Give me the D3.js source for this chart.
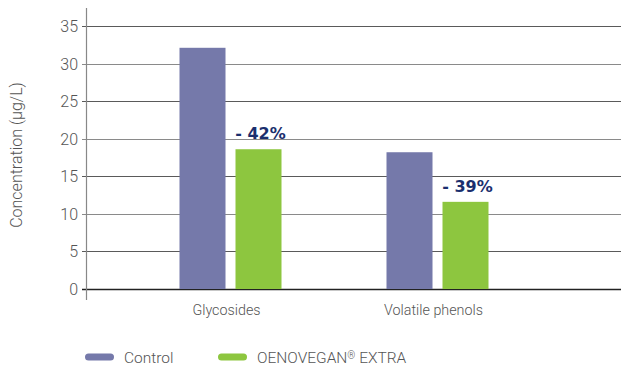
<!DOCTYPE html>
<html>
<head>
<meta charset="utf-8">
<script src="https://cdn.jsdelivr.net/npm/d3@7"></script>
<style>
  body { margin: 0; background: #fff; }
  svg { display: block; font-family: Roboto, "Liberation Sans", sans-serif; }
</style>
</head>
<body>
<svg id="chart" width="621" height="366"></svg>
<script>
// dati
const categories = ["Glycosides", "Volatile phenols"];
const series = ["Control", "OENOVEGAN® EXTRA"];
const controlValues = [32.1, 18.2];
const oenoveganValues = [18.6, 11.6];
const reductionLabels = ["- 42%", "- 39%"];
const yTicks = [0, 5, 10, 15, 20, 25, 30, 35];

const colors = ["#7579aa", "#8dc63f"];

const svg = d3.select("#chart");
const width = 621, height = 366;
const marginLeft = 86, plotBottom = 289, plotTop = 26;

const y = d3.scaleLinear().domain([0, 35]).range([plotBottom, plotTop]);

// gruppi per categoria
const x0 = d3.scaleBand().domain(categories).range([127, 541]).padding(0);
const x1 = d3.scaleBand().domain(series).range([52.5, 154.5]).paddingInner(10 / 56);

// griglia orizzontale
svg.append("g")
  .selectAll("line")
  .data(yTicks)
  .enter()
  .append("line")
  .attr("x1", marginLeft - 4)
  .attr("x2", width)
  .attr("y1", d => Math.round(y(d)) + 0.5)
  .attr("y2", d => Math.round(y(d)) + 0.5)
  .attr("stroke", d => d === 0 ? "#222" : (d % 10 === 0 ? "#8a8a8a" : "#5a5a5a"))
  .attr("stroke-width", d => d === 0 ? 1.4 : 1.2);

// asse y
svg.append("line")
  .attr("x1", marginLeft + 0.5).attr("x2", marginLeft + 0.5)
  .attr("y1", 8).attr("y2", 300)
  .attr("stroke", "#888")
  .attr("stroke-width", 1.2);

svg.append("g")
  .selectAll("text")
  .data(yTicks)
  .enter()
  .append("text")
  .attr("x", 78)
  .attr("y", d => y(d) + 6)
  .attr("text-anchor", "end")
  .attr("font-size", 16)
  .attr("font-weight", 300)
  .attr("fill", "#555")
  .text(d => d);

svg.append("text")
  .attr("transform", "translate(22,155) rotate(-90)")
  .attr("text-anchor", "middle")
  .attr("font-size", 16)
  .attr("font-weight", 300)
  .attr("fill", "#555")
  .text("Concentration (µg/L)");

// barre
const groups = svg.selectAll(".group")
  .data(categories)
  .enter()
  .append("g")
  .attr("class", "group")
  .attr("transform", d => `translate(${x0(d)},0)`);

groups.selectAll("rect")
  .data((d, i) => [
    { s: series[0], v: controlValues[i] },
    { s: series[1], v: oenoveganValues[i] }
  ])
  .enter()
  .append("rect")
  .attr("x", d => x1(d.s))
  .attr("width", x1.bandwidth())
  .attr("y", d => y(d.v))
  .attr("height", d => plotBottom - y(d.v))
  .attr("fill", (d, i) => colors[i]);

// etichette di riduzione
groups.append("text")
  .attr("x", x1(series[1]) + x1.bandwidth() / 2 + 2)
  .attr("y", (d, i) => y(oenoveganValues[i]) - 10)
  .attr("text-anchor", "middle")
  .attr("font-family", "'DejaVu Sans', sans-serif")
  .attr("font-size", 16)
  .attr("font-weight", 700)
  .attr("fill", "#1b2f6e")
  .text((d, i) => reductionLabels[i]);

// etichette categorie
groups.append("text")
  .attr("x", x0.bandwidth() / 2 - 4)
  .attr("y", 315)
  .attr("text-anchor", "middle")
  .attr("font-size", 14.3)
  .attr("font-weight", 300)
  .attr("fill", "#555")
  .text(d => d);

// legenda
const legend = svg.append("g").attr("transform", "translate(85,357)");
const legendX = [0, 133];
series.forEach((s, i) => {
  legend.append("rect")
    .attr("x", legendX[i])
    .attr("y", -3.5)
    .attr("width", 29)
    .attr("height", 7)
    .attr("rx", 3.5)
    .attr("fill", colors[i]);
  const t = legend.append("text")
    .attr("x", legendX[i] + 39)
    .attr("y", 6)
    .attr("font-size", 15.5)
    .attr("font-weight", 300)
    .attr("fill", "#555");
  // il simbolo ® è più piccolo e rialzato
  let shift = 0;
  s.split(/(®)/).forEach(part => {
    if (part === "®") {
      t.append("tspan").attr("font-size", 10).attr("dy", -4).text(part);
      shift = 4;
    } else if (part) {
      t.append("tspan").attr("dy", shift).text(part);
      shift = 0;
    }
  });
});
</script>
</body>
</html>
